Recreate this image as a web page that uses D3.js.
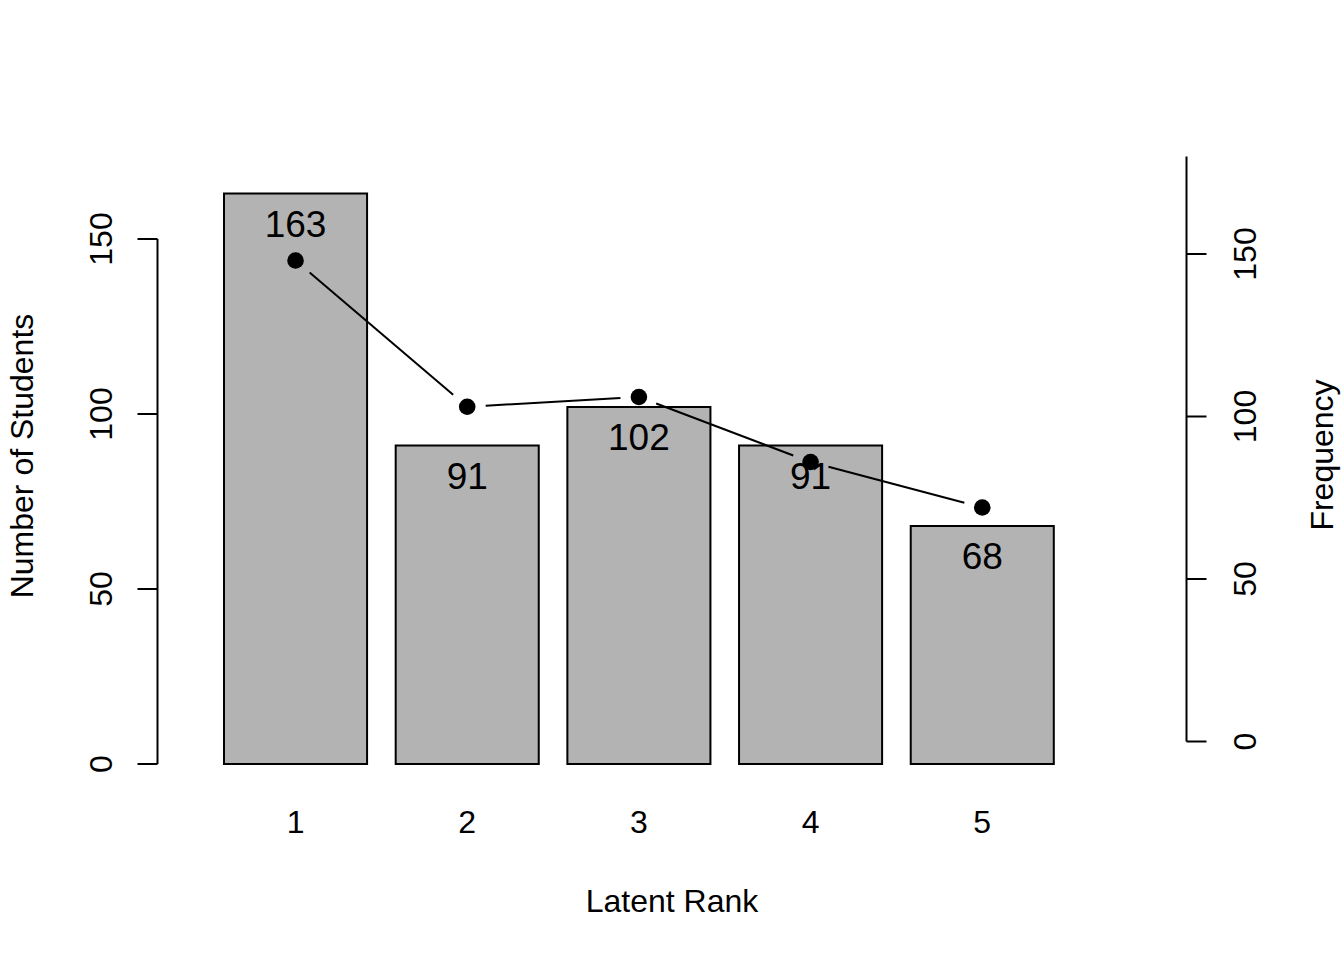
<!DOCTYPE html>
<html>
<head>
<meta charset="utf-8">
<script src="https://cdn.jsdelivr.net/npm/d3@7"></script>
<style>
  html, body { margin: 0; padding: 0; background: #fff; }
  text { font-family: "Liberation Sans", Arial, Helvetica, sans-serif; fill: #000; }
</style>
</head>
<body>
<div id="chart"></div>
<script>
// data
const ranks = [1, 2, 3, 4, 5];
const students = [163, 91, 102, 91, 68];   // bars, left axis
const frequency = [148, 103, 106, 86, 72]; // points, right axis
const leftTicks = [0, 50, 100, 150];
const rightTicks = [0, 50, 100, 150];

const width = 1344, height = 960;
const fontSize = 32;
const valueFontSize = 37;

const svg = d3.select('#chart').append('svg')
  .attr('width', width)
  .attr('height', height);

const x = d3.scaleBand()
  .domain(ranks)
  .range([209.7, 1068.1])
  .paddingInner(1 / 6)
  .paddingOuter(1 / 12);

const yLeft = d3.scaleLinear().domain([0, 150]).range([764, 239]);
const yRight = d3.scaleLinear().domain([0, 180]).range([741.5, 156.5]);

// bars
const bars = ranks.map((r, i) => ({ rank: r, n: students[i], f: frequency[i] }));

svg.selectAll('.bar')
  .data(bars)
  .enter().append('rect')
  .attr('class', 'bar')
  .attr('x', d => x(d.rank))
  .attr('y', d => yLeft(d.n))
  .attr('width', x.bandwidth())
  .attr('height', d => yLeft(0) - yLeft(d.n))
  .attr('fill', '#b3b3b3')
  .attr('stroke', '#000')
  .attr('stroke-width', 2);

// line segments with gaps around points (R type = "b")
const gap = 18.5;
const pts = bars.map(d => [x(d.rank) + x.bandwidth() / 2, yRight(d.f)]);
for (let i = 0; i < pts.length - 1; i++) {
  const [x1, y1] = pts[i], [x2, y2] = pts[i + 1];
  const len = Math.hypot(x2 - x1, y2 - y1);
  const ux = (x2 - x1) / len, uy = (y2 - y1) / len;
  svg.append('line')
    .attr('x1', x1 + ux * gap).attr('y1', y1 + uy * gap)
    .attr('x2', x2 - ux * gap).attr('y2', y2 - uy * gap)
    .attr('stroke', '#000')
    .attr('stroke-width', 2);
}

svg.selectAll('.pt')
  .data(bars)
  .enter().append('circle')
  .attr('class', 'pt')
  .attr('cx', d => x(d.rank) + x.bandwidth() / 2)
  .attr('cy', d => yRight(d.f))
  .attr('r', 8.3)
  .attr('fill', '#000');

// bar value labels (drawn after points, like in R)
svg.selectAll('.val')
  .data(bars)
  .enter().append('text')
  .attr('class', 'val')
  .attr('x', d => x(d.rank) + x.bandwidth() / 2)
  .attr('y', d => yLeft(d.n) + 43)
  .attr('text-anchor', 'middle')
  .attr('font-size', valueFontSize)
  .text(d => d.n);

// left axis
const gl = svg.append('g').attr('transform', 'translate(157.5,0)');
gl.append('line')
  .attr('x1', 0).attr('x2', 0)
  .attr('y1', yLeft(0)).attr('y2', yLeft(150))
  .attr('stroke', '#000').attr('stroke-width', 2);
gl.selectAll('.tick')
  .data(leftTicks)
  .enter().append('line')
  .attr('x1', 0).attr('x2', -20)
  .attr('y1', d => yLeft(d)).attr('y2', d => yLeft(d))
  .attr('stroke', '#000').attr('stroke-width', 2);
gl.selectAll('.lbl')
  .data(leftTicks)
  .enter().append('text')
  .attr('transform', d => `translate(-45.5,${yLeft(d)}) rotate(-90)`)
  .attr('text-anchor', 'middle')
  .attr('font-size', fontSize)
  .text(d => d);

// right axis
const gr = svg.append('g').attr('transform', 'translate(1186.5,0)');
gr.append('line')
  .attr('x1', 0).attr('x2', 0)
  .attr('y1', yRight(0)).attr('y2', yRight(180))
  .attr('stroke', '#000').attr('stroke-width', 2);
gr.selectAll('.tick')
  .data(rightTicks)
  .enter().append('line')
  .attr('x1', 0).attr('x2', 20)
  .attr('y1', d => yRight(d)).attr('y2', d => yRight(d))
  .attr('stroke', '#000').attr('stroke-width', 2);
gr.selectAll('.lbl')
  .data(rightTicks)
  .enter().append('text')
  .attr('transform', d => `translate(69.5,${yRight(d)}) rotate(-90)`)
  .attr('text-anchor', 'middle')
  .attr('font-size', fontSize)
  .text(d => d);

// x tick labels (no axis line)
svg.selectAll('.xl')
  .data(ranks)
  .enter().append('text')
  .attr('x', d => x(d) + x.bandwidth() / 2)
  .attr('y', 833)
  .attr('text-anchor', 'middle')
  .attr('font-size', fontSize)
  .text(d => d);

// axis titles
svg.append('text')
  .attr('x', 672).attr('y', 911.5)
  .attr('text-anchor', 'middle')
  .attr('font-size', fontSize)
  .text('Latent Rank');

svg.append('text')
  .attr('transform', 'translate(33,456) rotate(-90)')
  .attr('text-anchor', 'middle')
  .attr('font-size', fontSize)
  .text('Number of Students');

svg.append('text')
  .attr('transform', 'translate(1333,455) rotate(-90)')
  .attr('text-anchor', 'middle')
  .attr('font-size', fontSize)
  .text('Frequency');
</script>
</body>
</html>
